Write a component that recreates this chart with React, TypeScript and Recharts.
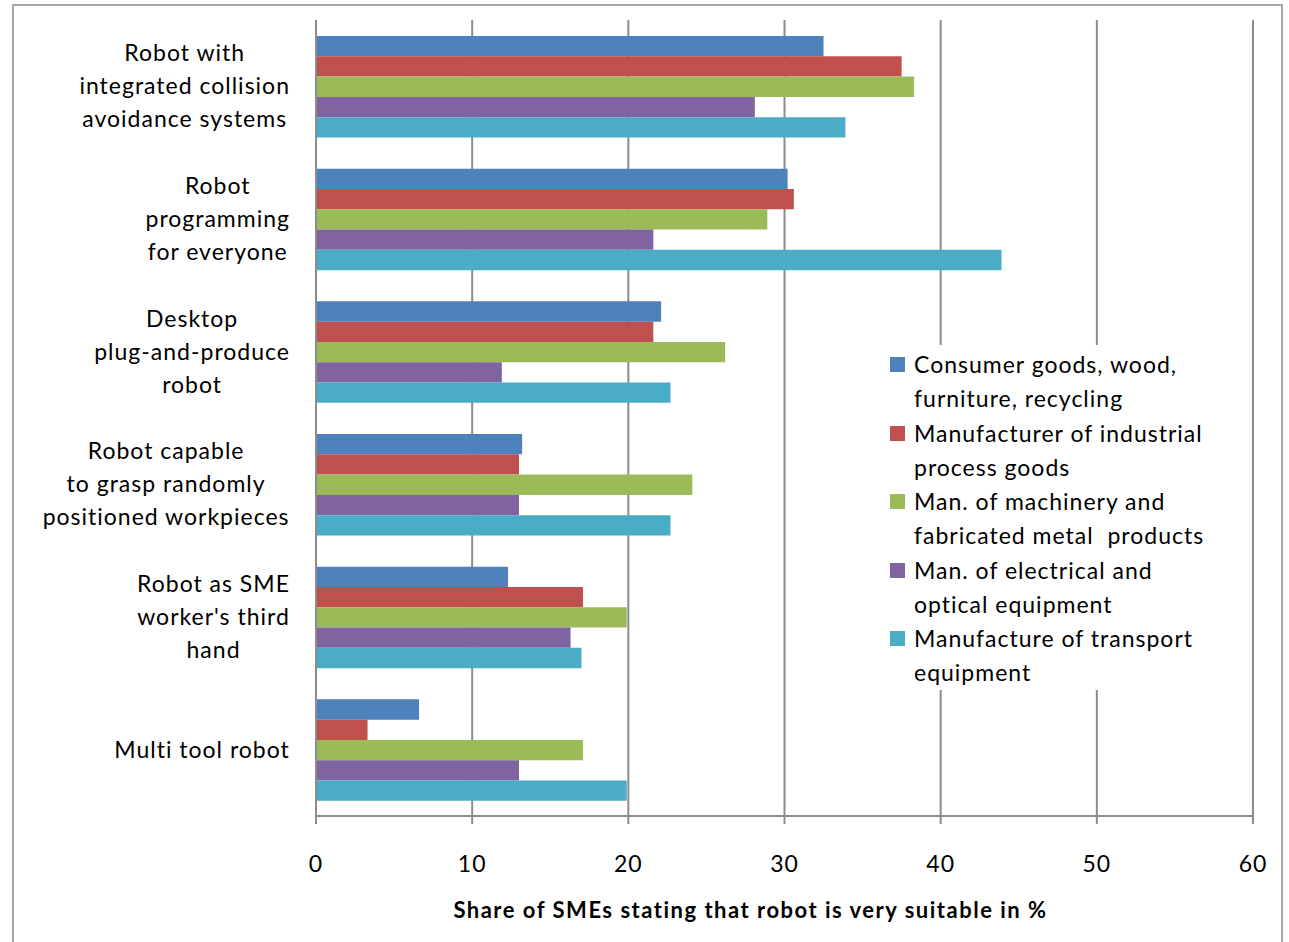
import { Bar, BarChart, CartesianGrid, Legend, XAxis, YAxis } from 'recharts'

const categories = [
  'Robot with|integrated collision|avoidance systems',
  'Robot|programming|for everyone',
  'Desktop|plug-and-produce|robot',
  'Robot capable|to grasp randomly|positioned workpieces',
  "Robot as SME|worker's third|hand",
  'Multi tool robot',
]

const consumer = [32.5, 30.2, 22.1, 13.2, 12.3, 6.6]
const processGoods = [37.5, 30.6, 21.6, 13.0, 17.1, 3.3]
const machinery = [38.3, 28.9, 26.2, 24.1, 19.9, 17.1]
const electrical = [28.1, 21.6, 11.9, 13.0, 16.3, 13.0]
const transport = [33.9, 43.9, 22.7, 22.7, 17.0, 19.9]

const xTicks = [0, 10, 20, 30, 40, 50, 60]

const seriesNames = [
  'Consumer goods, wood,|furniture, recycling',
  'Manufacturer of industrial|process goods',
  'Man. of machinery and|fabricated metal  products',
  'Man. of electrical and|optical equipment',
  'Manufacture of transport|equipment',
]
const seriesKeys = ['consumer', 'processGoods', 'machinery', 'electrical', 'transport']
const colors = ['#4f81bd', '#c0504d', '#9bbb59', '#8064a2', '#4bacc6']

const data = categories.map((name, i) => ({
  name,
  consumer: consumer[i],
  processGoods: processGoods[i],
  machinery: machinery[i],
  electrical: electrical[i],
  transport: transport[i],
}))

const FONT = 'Lato, "Open Sans", sans-serif'
const GRID = '#8c8c8c'
const SIZE = 23
const SPACING = 1

let ctx: CanvasRenderingContext2D | null = null
function textWidth(s: string, size: number) {
  if (!ctx) ctx = document.createElement('canvas').getContext('2d')
  if (!ctx) return s.length * size * 0.5
  ctx.font = `${size}px Lato`
  return ctx.measureText(s).width + s.length * SPACING
}

function CategoryTick(props: any) {
  const { y, payload } = props
  const lines: string[] = String(payload.value).split('|')
  const w = Math.max(...lines.map((l) => textWidth(l, SIZE)))
  const cx = 290 - w / 2
  const lh = 33
  const start = y - ((lines.length - 1) * lh) / 2
  return (
    <text textAnchor="middle" fontSize={SIZE} fontFamily={FONT} fill="#000" letterSpacing={SPACING}>
      {lines.map((l, i) => (
        <tspan key={i} x={cx} y={start + i * lh} dy="0.35em">
          {l}
        </tspan>
      ))}
    </text>
  )
}

function LegendBox() {
  return (
    <div
      style={{
        background: '#fff',
        width: 335,
        height: 345,
        paddingTop: 2,
        boxSizing: 'border-box',
        fontFamily: FONT,
        fontSize: SIZE,
        letterSpacing: SPACING,
        color: '#000',
      }}
    >
      {seriesNames.map((n, i) => (
        <div key={i} style={{ position: 'relative', height: 68.5, paddingLeft: 34 }}>
          <div
            style={{
              position: 'absolute',
              left: 10,
              top: 10,
              width: 15,
              height: 15,
              background: colors[i],
            }}
          />
          {n.split('|').map((l, j) => (
            <div key={j} style={{ height: 34, lineHeight: '34px', whiteSpace: 'pre' }}>
              {l}
            </div>
          ))}
        </div>
      ))}
    </div>
  )
}

export default function App() {
  return (
    <div style={{ position: 'absolute', left: 0, top: 0, width: 1289, height: 942, overflow: 'hidden', background: '#fff' }}>
      <div
        style={{
          position: 'absolute',
          left: 12,
          top: 4,
          width: 1271,
          height: 960,
          border: '2px solid #a6a6a6',
          boxSizing: 'border-box',
        }}
      />
      <div style={{ position: 'absolute', left: 0, top: 0 }}>
        <BarChart
          width={1289}
          height={942}
          data={data}
          layout="vertical"
          margin={{ top: 20, right: 36, left: 0, bottom: 0 }}
          barSize={20.3}
          barGap={0}
        >
          <CartesianGrid horizontal={false} stroke={GRID} strokeWidth={2} />
          <XAxis
            type="number"
            domain={[0, 60]}
            ticks={xTicks}
            height={126}
            tickSize={8}
            tickMargin={32}
            axisLine={{ stroke: GRID, strokeWidth: 2 }}
            tickLine={{ stroke: GRID, strokeWidth: 2 }}
            tick={{ fontSize: SIZE, fontFamily: FONT, fill: '#000', letterSpacing: SPACING }}
            label={(p: any) => {
              const vb = p.viewBox
              return (
                <text
                  x={vb.x + vb.width / 2 - 34}
                  y={vb.y + 94}
                  textAnchor="middle"
                  fontSize={22}
                  fontWeight="bold"
                  fontFamily={FONT}
                  letterSpacing={1.5}
                  fill="#000"
                  dy="0.35em"
                >
                  Share of SMEs stating that robot is very suitable in %
                </text>
              )
            }}
          />
          <YAxis
            type="category"
            dataKey="name"
            width={316}
            axisLine={{ stroke: GRID, strokeWidth: 2 }}
            tickLine={false}
            tick={<CategoryTick />}
            interval={0}
          />
          <Legend
            layout="vertical"
            align="center"
            verticalAlign="middle"
            content={() => <LegendBox />}
            wrapperStyle={{ position: 'absolute', left: 880, top: 345, width: 335, height: 345 }}
          />
          {seriesKeys.map((k, i) => (
            <Bar
              key={k}
              dataKey={k}
              name={seriesNames[i].replace('|', ' ')}
              fill={colors[i]}
              isAnimationActive={false}
            />
          ))}
        </BarChart>
      </div>
    </div>
  )
}
